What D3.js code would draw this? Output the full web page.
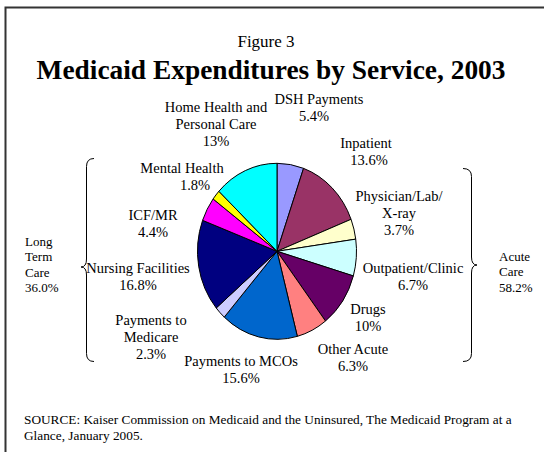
<!DOCTYPE html>
<html>
<head>
<meta charset="utf-8">
<script src="https://cdn.jsdelivr.net/npm/d3@7"></script>
<style>
  body { margin: 0; background: #fff; }
  svg text { font-family: "Liberation Serif", "Times New Roman", serif; fill: #000; }
</style>
</head>
<body>
<div id="chart"></div>
<script>
var width = 544, height = 452;

// data
var categories = ["DSH Payments", "Inpatient", "Physician/Lab/X-ray", "Outpatient/Clinic", "Drugs",
  "Other Acute", "Payments to MCOs", "Payments to Medicare", "Nursing Facilities", "ICF/MR",
  "Mental Health", "Home Health and Personal Care"];
var values = [5.4, 13.6, 3.7, 6.7, 10, 6.3, 15.6, 2.3, 16.8, 4.4, 1.8, 13];
var valueLabels = ["5.4%", "13.6%", "3.7%", "6.7%", "10%", "6.3%", "15.6%", "2.3%", "16.8%", "4.4%", "1.8%", "13%"];
var colors = ["#9999FF", "#993366", "#FFFFCC", "#CCFFFF", "#660066", "#FF8080",
  "#0066CC", "#CCCCFF", "#000080", "#FF00FF", "#FFFF00", "#00FFFF"];
var groupNames = [["Long", "Term", "Care"], ["Acute", "Care"]];
var groupValues = ["36.0%", "58.2%"];

// label layout (line texts + centre x / first baseline y)
var labelLines = [
  ["DSH Payments"], ["Inpatient"], ["Physician/Lab/", "X-ray"], ["Outpatient/Clinic"], ["Drugs"],
  ["Other Acute"], ["Payments to MCOs"], ["Payments to", "Medicare"], ["Nursing Facilities"], ["ICF/MR"],
  ["Mental Health"], ["Home Health and", "Personal Care"]
];
var labelPos = [
  [319, 104], [366, 148], [399, 201], [413, 273], [368, 314],
  [353, 354], [241, 366], [151, 325], [138, 273], [153, 220],
  [182, 173], [216, 112]
];
var pctDx = [-5, 3, 0, 0, 0, 0, 0, 0, 0, 0, 13, 0];

var cx = 277, cy = 251.3, rx = 79.5, ry = 88;

var svg = d3.select("#chart").append("svg")
  .attr("width", width)
  .attr("height", height);

svg.append("rect").attr("width", width).attr("height", height).attr("fill", "#fff");

// frame
svg.append("rect")
  .attr("x", 5.5).attr("y", 7.5)
  .attr("width", width).attr("height", height)
  .attr("fill", "none")
  .attr("stroke", "#333")
  .attr("stroke-width", 2);

svg.append("text")
  .attr("x", 266).attr("y", 47)
  .attr("text-anchor", "middle")
  .style("font-size", "17px")
  .text("Figure 3");

svg.append("text")
  .attr("x", 271).attr("y", 79)
  .attr("text-anchor", "middle")
  .style("font-size", "27.4px")
  .style("font-weight", "bold")
  .text("Medicaid Expenditures by Service, 2003");

// pie (circle scaled into an ellipse)
var pie = d3.pie().sort(null).value(function(d) { return d; });
var arc = d3.arc().innerRadius(0).outerRadius(rx);

var pieG = svg.append("g")
  .attr("transform", "translate(" + cx + "," + cy + ") scale(1," + (ry / rx) + ")");

pieG.selectAll("path")
  .data(pie(values))
  .enter().append("path")
  .attr("d", arc)
  .attr("fill", function(d, i) { return colors[i]; })
  .attr("stroke", "#000")
  .attr("stroke-width", 1)
  .attr("vector-effect", "non-scaling-stroke");

// slice labels
var lineH = 17;
var labels = svg.append("g").style("font-size", "14.5px").attr("text-anchor", "middle");
labelLines.forEach(function(lines, i) {
  var p = labelPos[i];
  var t = labels.append("text").attr("x", p[0]).attr("y", p[1]);
  lines.forEach(function(s, j) {
    t.append("tspan").attr("x", p[0]).attr("y", p[1] + j * lineH).text(s);
  });
  t.append("tspan").attr("x", p[0] + pctDx[i]).attr("y", p[1] + lines.length * lineH).text(valueLabels[i]);
});

// braces
function brace(xEnd, xSpine, xTip, y0, yTip, y1) {
  var c = 8;
  return "M" + xEnd + "," + y0 +
    " Q" + xSpine + "," + y0 + " " + xSpine + "," + (y0 + c) +
    " L" + xSpine + "," + (yTip - c) +
    " Q" + xSpine + "," + yTip + " " + xTip + "," + yTip +
    " Q" + xSpine + "," + yTip + " " + xSpine + "," + (yTip + c) +
    " L" + xSpine + "," + (y1 - c) +
    " Q" + xSpine + "," + y1 + " " + xEnd + "," + y1;
}
svg.append("path")
  .attr("d", brace(94, 86.5, 81, 158.5, 267, 361.5))
  .attr("fill", "none").attr("stroke", "#000").attr("stroke-width", 1);
svg.append("path")
  .attr("d", brace(463, 471.5, 477, 168.5, 265, 361.5))
  .attr("fill", "none").attr("stroke", "#000").attr("stroke-width", 1);

// group labels
var groupX = [25, 499], groupY = [246, 261];
groupNames.forEach(function(lines, g) {
  var t = svg.append("text").style("font-size", "13px");
  lines.concat([groupValues[g]]).forEach(function(s, j) {
    t.append("tspan").attr("x", groupX[g]).attr("y", groupY[g] + j * 15.3).text(s);
  });
});

// source
var src = svg.append("text").style("font-size", "13.3px");
src.append("tspan").attr("x", 24).attr("y", 424)
  .text("SOURCE: Kaiser Commission on Medicaid and the Uninsured, The Medicaid Program at a");
src.append("tspan").attr("x", 24).attr("y", 440).text("Glance, January 2005.");
</script>
</body>
</html>
